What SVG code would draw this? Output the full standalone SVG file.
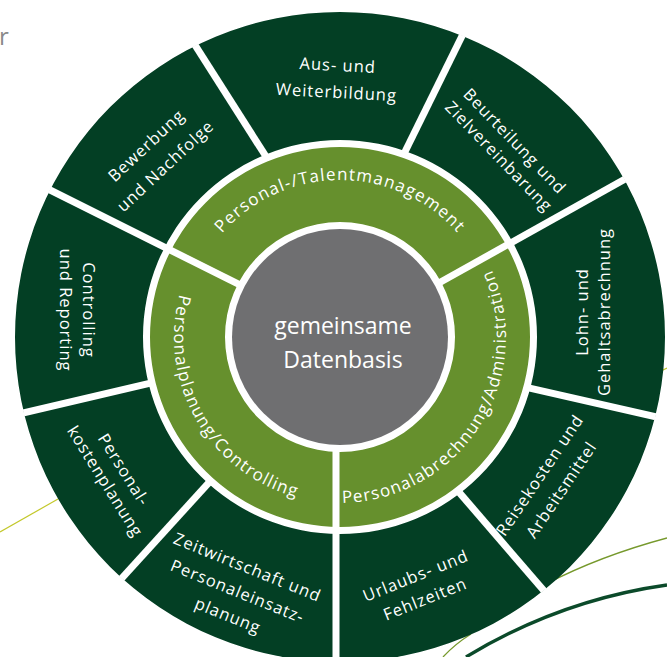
<svg xmlns="http://www.w3.org/2000/svg" width="667" height="657" viewBox="0 0 667 657">
<style>
.seg{fill:#033f24}
.ring{fill:#66902d}
.lbl{font-family:"Open Sans","Noto Sans",sans-serif;font-size:16.5px;fill:#fff;text-anchor:middle;letter-spacing:1px}
.rl{font-family:"Open Sans","Noto Sans",sans-serif;font-size:17px;fill:#fff;letter-spacing:1.2px;text-anchor:middle}
.ctr{font-family:"Open Sans","Noto Sans",sans-serif;font-size:23px;fill:#fff;text-anchor:middle}
.div{stroke:#fff;stroke-width:7;fill:none}
</style>
<defs>
<clipPath id="darkRing"><path clip-rule="evenodd" d="M15 337a325 325 0 1 0 650 0a325 325 0 1 0 -650 0ZM143 337a197 197 0 1 0 394 0a197 197 0 1 0 -394 0Z"/></clipPath>
<clipPath id="greenRing"><path clip-rule="evenodd" d="M150 337a190 190 0 1 0 380 0a190 190 0 1 0 -380 0ZM225 337a115 115 0 1 0 230 0a115 115 0 1 0 -230 0Z"/></clipPath>
<clipPath id="disk"><circle cx="340" cy="337" r="325.5"/></clipPath>
<path id="pTop" d="M185.4 309.7A157 157 0 0 1 494.6 309.7"/>
<path id="pLeft" d="M196.2 254A166 166 0 0 0 340 503"/>
<path id="pRight" d="M332.8 502.8A166 166 0 0 0 487.2 260.4"/>
</defs>

<g id="background">
<text x="-1" y="45" font-family="Open Sans, sans-serif" font-size="24" fill="#8a8a8a">r</text>
<path d="M0 532L58 499" stroke="#c3c82a" stroke-width="1.2" fill="none"/>
<path d="M661 371L667 368" stroke="#c3c82a" stroke-width="1.2" fill="none"/>
<path d="M546 584Q600 556 667 538" stroke="#76992c" stroke-width="1.3" fill="none"/>
<path d="M443 657Q455 644 471 634" stroke="#76992c" stroke-width="1.3" fill="none"/>
<path d="M466 657Q560 600 667 585" stroke="#0b4a2a" stroke-width="3.4" fill="none"/>
</g>

<g id="ring-outer" clip-path="url(#darkRing)">
<g id="aus-weiterbildung"><path class="seg" d="M289.5 193.5L170.5 6.5L324.2 -82.7L481.5 -3.6L385.2 192Z"/></g>
<g id="beurteilung"><path class="seg" d="M385.2 192L481.5 -3.6L618.6 22.7L663 157.8L408 300.3Z"/></g>
<g id="lohn"><path class="seg" d="M408 300.3L663 157.8L756.5 282.9L698.8 426.6L486.3 378.4Z"/></g>
<g id="reisekosten"><path class="seg" d="M486.3 378.4L698.8 426.6L693.4 563.9L572.5 623.8L430.8 459.5Z"/></g>
<g id="urlaub"><path class="seg" d="M430.8 459.5L572.5 623.8L477.1 734L336 700L336 420Z"/></g>
<g id="zeitwirtschaft"><path class="seg" d="M336 420L336 700L186.7 728.1L91.4 611.6L238.6 450Z"/></g>
<g id="personalkosten"><path class="seg" d="M238.6 450L91.4 611.6L-21.2 551.4L-23.2 423.8L194.9 372.8Z"/></g>
<g id="controlling-reporting"><path class="seg" d="M194.9 372.8L-23.2 423.8L-77.1 288L9.2 169.6L271.7 300.8Z"/></g>
<g id="bewerbung"><path class="seg" d="M271.7 300.8L9.2 169.6L44.1 39L170.5 6.5L289.5 193.5Z"/></g>
</g>

<g id="ring-inner" clip-path="url(#greenRing)">
<g id="talentmanagement"><path class="ring" d="M271.7 300.8L9.2 169.6L130 -26.7L340 -83L550 -26.7L663 157.8L408 300.3Z"/></g>
<g id="personalabrechnung"><path class="ring" d="M408 300.3L663 157.8L760 337L703.7 547L550 700.7L336 700L336 420Z"/></g>
<g id="personalplanung"><path class="ring" d="M336 420L336 700L130 700.7L-23.7 547L-80 337L9.2 169.6L271.7 300.8Z"/></g>
</g>

<g id="datenbasis">
<circle cx="340" cy="337" r="108" fill="#6f6f71"/>
<text class="ctr" x="343" y="334">gemeinsame</text>
<text class="ctr" x="343" y="368">Datenbasis</text>
</g>

<g id="connectors" clip-path="url(#disk)">
<line class="div" x1="266.4" y1="157.2" x2="170.5" y2="6.5"/>
<line class="div" x1="403.9" y1="154" x2="481.5" y2="-3.6"/>
<line class="div" x1="438.4" y1="283.3" x2="663" y2="157.8"/>
<line class="div" x1="527.5" y1="387.7" x2="698.8" y2="426.6"/>
<line class="div" x1="458.3" y1="491.4" x2="572.5" y2="623.8"/>
<line class="div" x1="336" y1="449" x2="336" y2="700"/>
<line class="div" x1="210" y1="481.4" x2="91.4" y2="611.6"/>
<line class="div" x1="152.6" y1="382.7" x2="-23.2" y2="423.8"/>
<line class="div" x1="241" y1="285.4" x2="9.2" y2="169.6"/>
</g>

<g id="labels">
<text class="lbl" transform="translate(337,80) rotate(3)"><tspan x="0" y="-9">Aus- und</tspan><tspan x="0" y="18">Weiterbildung</tspan></text>
<text class="lbl" transform="translate(505.5,150) rotate(46)"><tspan x="0" y="-7">Beurteilung und</tspan><tspan x="0" y="15">Zielvereinbarung</tspan></text>
<text class="lbl" transform="translate(595,312) rotate(-90)"><tspan x="0" y="-7">Lohn- und</tspan><tspan x="0" y="15">Gehaltsabrechnung</tspan></text>
<text class="lbl" transform="translate(552,483.5) rotate(-56)"><tspan x="0" y="-9">Reisekosten und</tspan><tspan x="0" y="17">Arbeitsmittel</tspan></text>
<text class="lbl" transform="translate(421,589) rotate(-22)"><tspan x="0" y="-8.5">Urlaubs- und</tspan><tspan x="0" y="16.5">Fehlzeiten</tspan></text>
<text class="lbl" transform="translate(237,593) rotate(22)"><tspan x="0" y="-22">Zeitwirtschaft und</tspan><tspan x="0" y="4">Personaleinsatz-</tspan><tspan x="0" y="30">planung</tspan></text>
<text class="lbl" transform="translate(113,476.5) rotate(58)"><tspan x="0" y="-7">Personal-</tspan><tspan x="0" y="15">kostenplanung</tspan></text>
<text class="lbl" transform="translate(75.5,310) rotate(90)"><tspan x="0" y="-7.5">Controlling</tspan><tspan x="0" y="15.5">und Reporting</tspan></text>
<text class="lbl" transform="translate(157,157) rotate(-43)"><tspan x="0" y="-10">Bewerbung</tspan><tspan x="0" y="18">und Nachfolge</tspan></text>
<text class="rl"><textPath href="#pTop" startOffset="50%">Personal-/Talentmanagement</textPath></text>
<text class="rl"><textPath href="#pLeft" startOffset="50%">Personalplanung/Controlling</textPath></text>
<text class="rl"><textPath href="#pRight" startOffset="50%">Personalabrechnung/Administration</textPath></text>
</g>
</svg>
